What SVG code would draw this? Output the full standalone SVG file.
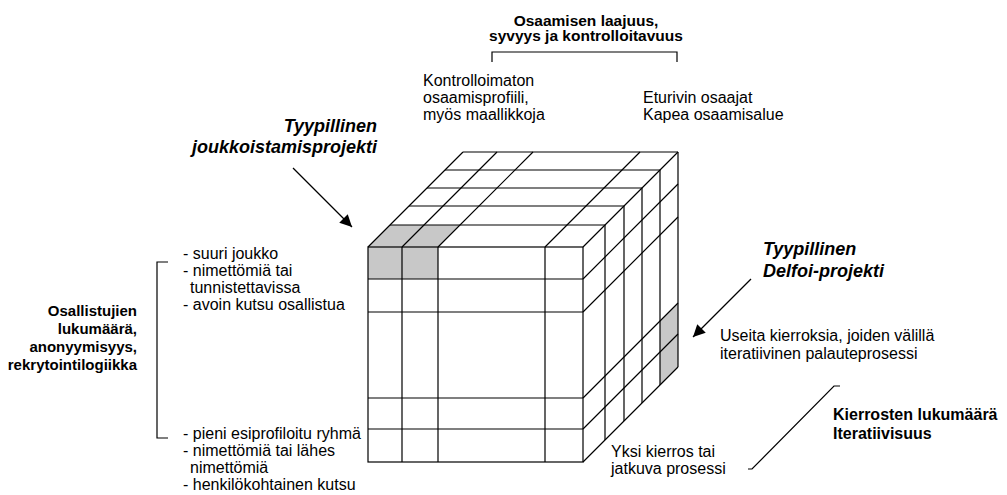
<svg xmlns="http://www.w3.org/2000/svg" width="1007" height="495" viewBox="0 0 1007 495">
<style>
text{font-family:"Liberation Sans",Arial,sans-serif;font-size:16px;fill:#000}
.b{font-weight:bold}
.t{font-weight:bold;font-size:15.5px}
.l{font-weight:bold;font-size:15px}
.bi{font-weight:bold;font-style:italic;font-size:18px}
.ln{stroke:#000;stroke-width:1.2;fill:none}
.sh{fill:#c8c8c8;stroke:none}
.ax{stroke:#000;stroke-width:1.2;fill:none}
</style>
<defs>
<marker id="ah" viewBox="0 0 10 10" refX="10" refY="5" markerWidth="15" markerHeight="12" markerUnits="userSpaceOnUse" orient="auto">
<path d="M0,0 L10,5 L0,10 z" fill="#000"/>
</marker>
</defs>
<rect width="1007" height="495" fill="#fff"/>

<g id="cube">
<rect class="sh" x="368" y="247" width="70" height="32"/>
<polygon class="sh" points="368,247 438,247 460,225 390,225"/>
<polygon class="sh" points="660,321 678,303 678,367 660,385"/>
<g class="ln">
<rect x="368" y="247" width="215" height="215"/>
<path d="M402,247V462M438,247V462M545,247V462"/>
<path d="M368,279H583M368,312H583M368,398H583M368,429H583"/>
<path d="M390,225H605M409,206H624M427,188H642M445,170H660M463,152H678"/>
<path d="M368,247L463,152M402,247L497,152M438,247L533,152M545,247L640,152M583,247L678,152"/>
<path d="M605,225V440M624,206V421M642,188V403M660,170V385M678,152V367"/>
<path d="M583,279L678,184M583,312L678,217M583,398L678,303M583,429L678,334M583,462L678,367"/>
</g>
</g>

<g id="title">
<text class="t" x="586" y="26" text-anchor="middle">Osaamisen laajuus,</text>
<text class="t" x="586" y="41" text-anchor="middle">syvyys ja kontrolloitavuus</text>
</g>

<g id="top-left-label">
<text x="423" y="86">Kontrolloimaton</text>
<text x="423" y="103">osaamisprofiili,</text>
<text x="423" y="120">myös maallikkoja</text>
</g>

<g id="top-right-label">
<text x="643" y="103">Eturivin osaajat</text>
<text x="643" y="120">Kapea osaamisalue</text>
</g>

<g id="crowd-project">
<text class="bi" x="377" y="132" text-anchor="end">Tyypillinen</text>
<text class="bi" x="377" y="153" text-anchor="end">joukkoistamisprojekti</text>
</g>

<g id="delfoi-project">
<text class="bi" x="763" y="255">Tyypillinen</text>
<text class="bi" x="763" y="277">Delfoi-projekti</text>
</g>

<g id="participants-axis">
<text class="l" x="137" y="316" text-anchor="end">Osallistujien</text>
<text class="l" x="137" y="334" text-anchor="end">lukumäärä,</text>
<text class="l" x="137" y="352" text-anchor="end">anonyymisyys,</text>
<text class="l" x="137" y="370" text-anchor="end">rekrytointilogiikka</text>
</g>

<g id="participants-top">
<text x="183" y="259">- suuri joukko</text>
<text x="183" y="276">- nimettömiä tai</text>
<text x="190" y="293">tunnistettavissa</text>
<text x="183" y="310">- avoin kutsu osallistua</text>
</g>

<g id="participants-bottom">
<text x="183" y="439">- pieni esiprofiloitu ryhmä</text>
<text x="183" y="456">- nimettömiä tai lähes</text>
<text x="190" y="473">nimettömiä</text>
<text x="183" y="490">- henkilökohtainen kutsu</text>
</g>

<g id="rounds-many">
<text x="720" y="341">Useita kierroksia, joiden välillä</text>
<text x="720" y="359">iteratiivinen palauteprosessi</text>
</g>

<g id="rounds-one">
<text x="611" y="457">Yksi kierros tai</text>
<text x="611" y="474">jatkuva prosessi</text>
</g>

<g id="rounds-axis">
<text class="b" x="833" y="420">Kierrosten lukumäärä</text>
<text class="b" x="833" y="439">Iteratiivisuus</text>
</g>

<g id="connectors">
<path class="ax" d="M492,62V52H677V62"/>
<path class="ax" d="M168,262H157V438H168"/>
<path class="ax" d="M748,469H752L834,386H840"/>
<line class="ax" x1="293" y1="168" x2="352" y2="227" marker-end="url(#ah)"/>
<line class="ax" x1="751" y1="279" x2="693" y2="337" marker-end="url(#ah)"/>
</g>
</svg>
